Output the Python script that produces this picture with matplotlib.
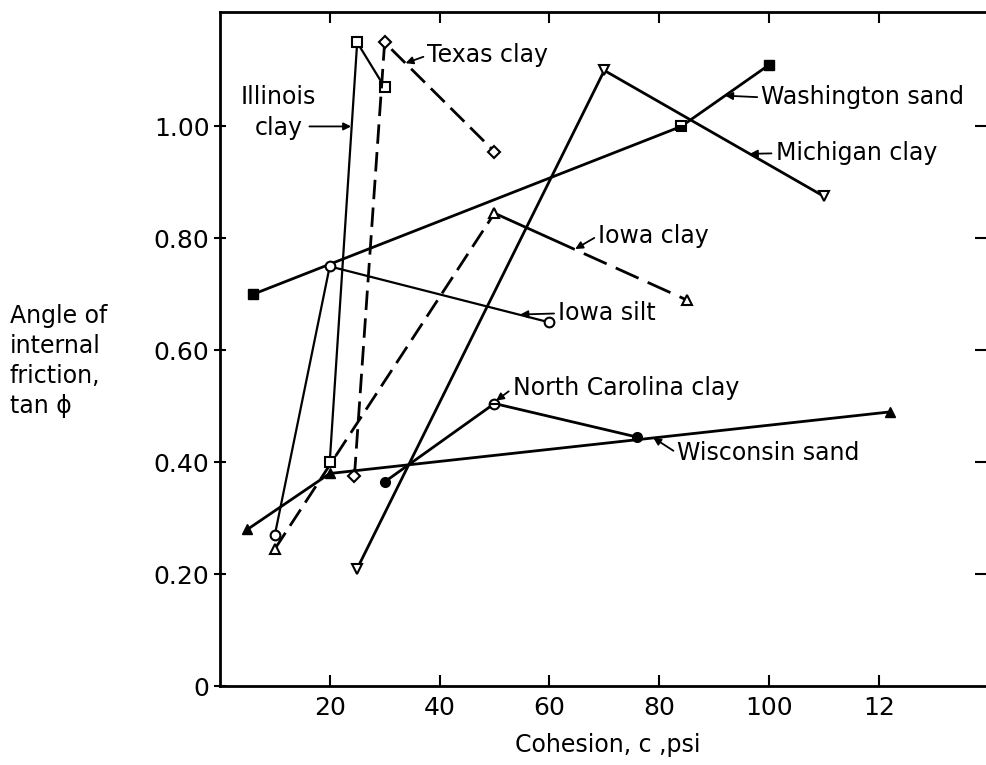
import matplotlib.pyplot as plt

# Cohesion c (psi) and tan(phi), one pair of lists per soil
washington_c = [6, 84, 100]
washington_tan = [0.70, 1.00, 1.11]
illinois_c = [20, 25, 30]
illinois_tan = [0.40, 1.15, 1.07]
texas_c = [24.5, 30, 50]
texas_tan = [0.375, 1.15, 0.955]
iowa_clay_c = [10, 50, 85]
iowa_clay_tan = [0.245, 0.845, 0.69]
iowa_silt_c = [10, 20, 60]
iowa_silt_tan = [0.27, 0.75, 0.65]
michigan_c = [25, 70, 110]
michigan_tan = [0.21, 1.10, 0.875]
wisconsin_c = [5, 20, 122]
wisconsin_tan = [0.28, 0.38, 0.49]
carolina_c = [30, 50, 76]
carolina_tan = [0.365, 0.505, 0.445]

x_ticks = [20, 40, 60, 80, 100, 120]
x_tick_labels = ["20", "40", "60", "80", "100", "12"]
y_ticks = [0, 0.2, 0.4, 0.6, 0.8, 1.0]
y_tick_labels = ["0", "0.20", "0.40", "0.60", "0.80", "1.00"]

plt.rcParams["font.family"] = "DejaVu Sans"
INK = "black"
LW = 2.0
MS = 7
DASH = (0, (7, 3))
# Iowa clay upper leg: solid up to the label arrow, then dashed
IOWA_LEG = (0, (31.7, 3.6, 9, 3.6, 9, 3.6, 9, 3.6, 20))

fig = plt.figure(figsize=(9.86, 7.65), dpi=100)
ax = fig.add_axes([0.223, 0.103, 0.777, 0.881])

# Washington sand: filled squares, middle one half filled
ax.plot(washington_c, washington_tan, "-", color=INK, lw=LW, zorder=2)
ax.plot(washington_c[::2], washington_tan[::2], "s", color=INK, ms=MS, zorder=4)
ax.plot(washington_c[1], washington_tan[1], "s", color=INK, ms=MS,
        fillstyle="bottom", markerfacecoloralt="white", mew=1.5, zorder=4)

# Illinois clay: open squares, solid
ax.plot(illinois_c, illinois_tan, "-s", color=INK, lw=1.6, ms=MS,
        mfc="white", mew=1.5, zorder=3)

# Texas clay: open diamonds, dashed
ax.plot(texas_c, texas_tan, "D", color=INK, ms=6, mfc="white", mew=1.5,
        ls=DASH, lw=LW, zorder=3)

# Iowa clay: open triangles, dashed lower leg
ax.plot(iowa_clay_c[:2], iowa_clay_tan[:2], color=INK, ls=DASH, lw=LW,
        zorder=2)
ax.plot(iowa_clay_c[1:], iowa_clay_tan[1:], color=INK, ls=IOWA_LEG, lw=LW,
        zorder=2)
ax.plot(iowa_clay_c, iowa_clay_tan, "^", color=INK, ms=MS, mfc="white",
        mew=1.5, ls="none", zorder=3)

# Iowa silt: open circles
ax.plot(iowa_silt_c, iowa_silt_tan, "-o", color=INK, lw=1.6, ms=MS,
        mfc="white", mew=1.5, zorder=3)

# Michigan clay: open down triangles
ax.plot(michigan_c, michigan_tan, "-v", color=INK, lw=LW, ms=MS,
        mfc="white", mew=1.5, zorder=3)

# Wisconsin sand: filled triangles
ax.plot(wisconsin_c, wisconsin_tan, "-^", color=INK, lw=LW, ms=MS, zorder=3)

# North Carolina clay: filled circles, middle one crossed
ax.plot(carolina_c, carolina_tan, "-", color=INK, lw=LW, zorder=2)
ax.plot(carolina_c[::2], carolina_tan[::2], "o", color=INK, ms=MS, zorder=4)
ax.plot(carolina_c[1], carolina_tan[1], "o", color=INK, ms=MS, mfc="white",
        mew=1.5, zorder=4)
ax.plot(carolina_c[1], carolina_tan[1], "_", color=INK, ms=MS, mew=1.5,
        zorder=5)

arrow = dict(arrowstyle="-|>", color=INK, lw=1.3, mutation_scale=11,
             shrinkA=1, shrinkB=0, relpos=(0, 0.5))
label_kw = dict(fontsize=17, ha="left", va="center", color=INK,
                arrowprops=arrow)

ax.annotate("Texas clay", xy=(33.8, 1.113), xytext=(37.8, 1.127), **label_kw)
ax.annotate("Washington sand", xy=(92, 1.055), xytext=(98.6, 1.052),
            **label_kw)
ax.annotate("Michigan clay", xy=(96.5, 0.951), xytext=(101.2, 0.952),
            **label_kw)
ax.annotate("Iowa clay", xy=(64.7, 0.781), xytext=(68.9, 0.805), **label_kw)
ax.annotate("Iowa silt", xy=(54.7, 0.664), xytext=(61.6, 0.666), **label_kw)
ax.annotate("North Carolina clay", xy=(50.3, 0.51), xytext=(53.3, 0.532),
            **label_kw)
ax.annotate("Wisconsin sand", xy=(78.9, 0.444), xytext=(83.3, 0.416),
            **label_kw)
ax.text(10.7, 1.025, "Illinois\nclay", fontsize=17, ha="center",
        va="center", multialignment="center", linespacing=1.35)
ax.annotate("", xy=(23.9, 1.0), xytext=(16.3, 1.0),
            arrowprops=dict(arrowstyle="-|>", color=INK, lw=1.3,
                            mutation_scale=11, shrinkA=0, shrinkB=0))

ax.set_xlim(0, 139.5)
ax.set_ylim(0, 1.204)
ax.set_xticks(x_ticks)
ax.set_xticklabels(x_tick_labels)
ax.set_yticks(y_ticks)
ax.set_yticklabels(y_tick_labels)
ax.tick_params(axis="x", direction="in", length=8, width=1.5, top=True,
               labelsize=18, pad=7)
ax.tick_params(axis="y", direction="inout", length=9, width=1.5,
               labelsize=18, pad=3)
for side in ("left", "bottom", "top"):
    ax.spines[side].set_linewidth(2)
ax.spines["right"].set_visible(False)

# right-hand ticks point inward, with no spine drawn
ax_r = ax.twinx()
ax_r.set_ylim(ax.get_ylim())
ax_r.set_yticks(y_ticks[1:])
ax_r.tick_params(axis="y", direction="in", length=8, width=1.5,
                 labelright=False)
for side in ax_r.spines:
    ax_r.spines[side].set_visible(False)

fig.text(0.010, 1 - 361 / 765, "Angle of\ninternal\nfriction,\ntan ϕ",
         fontsize=17, ha="left", va="center", linespacing=1.3)
fig.text(608 / 986, 1 - 745 / 765, "Cohesion, c ,psi", fontsize=17,
         ha="center", va="center")

fig.savefig("out.png", dpi=100)
